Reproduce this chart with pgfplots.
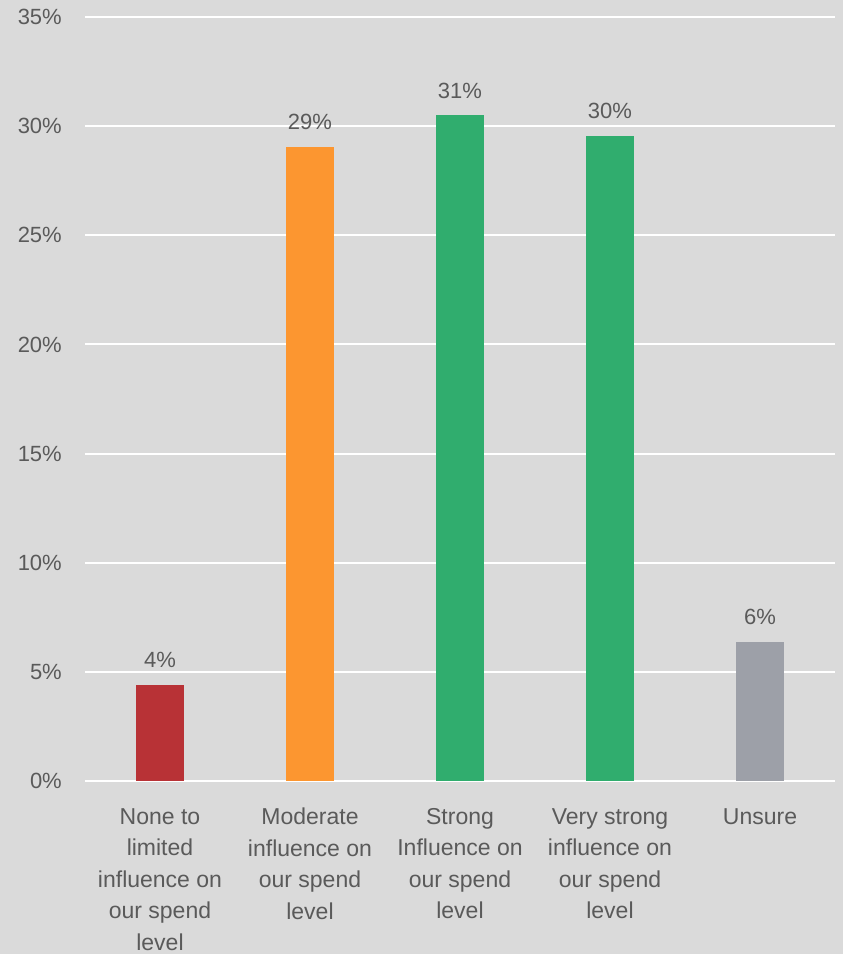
\documentclass[border=0pt]{standalone}
\usepackage{pgfplots}
\pgfplotsset{compat=1.18}
\usepackage{fontspec}
\setmainfont{Liberation Sans}
\definecolor{bg}{HTML}{DADADA}
\definecolor{txt}{HTML}{5A5A5A}
\definecolor{cred}{HTML}{B83236}
\definecolor{corange}{HTML}{FC9630}
\definecolor{cgreen}{HTML}{30AD6E}
\definecolor{cgray}{HTML}{9DA0A8}
\begin{document}
\begin{tikzpicture}
\fill[bg] (-85pt,-173pt) rectangle (758pt,781pt);
\begin{axis}[
  at={(0,0)}, anchor=south west,
  scale only axis, width=750pt, height=764pt,
  xmin=-0.5, xmax=4.5, ymin=0, ymax=35,
  axis line style={draw=none},
  ybar, bar width=48pt,
  ytick={0,5,10,15,20,25,30,35},
  yticklabels={0\%,5\%,10\%,15\%,20\%,25\%,30\%,35\%},
  xtick={0,1,2,3,4},
  xticklabels={{None to\\limited\\influence on\\our spend\\level},{Moderate\\influence on\\our spend\\level},{Strong\\Influence on\\our spend\\level},{Very strong\\influence on\\our spend\\level},{Unsure}},
  major tick length=0pt,
  tick style={draw=none},
  ymajorgrids, grid style={white, line width=2pt},
  tick label style={text=txt, font=\fontsize{22}{32}\selectfont},
  xticklabel style={align=center, anchor=north, inner sep=0pt, yshift=-27pt, font=\fontsize{23}{31.5}\selectfont},
  yticklabel style={anchor=east, inner sep=0pt, xshift=-23pt},
  nodes near coords,
  point meta=explicit symbolic,
  every node near coord/.style={text=txt, font=\fontsize{22}{32}\selectfont, anchor=base, inner sep=0pt, yshift=17pt},
  clip=false,
]
\addplot[fill=cred, draw=none, bar shift=0pt] coordinates {(0,4.4) [4\%]};
\addplot[fill=corange, draw=none, bar shift=0pt] coordinates {(1,29.05) [29\%]};
\addplot[fill=cgreen, draw=none, bar shift=0pt] coordinates {(2,30.5) [31\%]};
\addplot[fill=cgreen, draw=none, bar shift=0pt] coordinates {(3,29.55) [30\%]};
\addplot[fill=cgray, draw=none, bar shift=0pt] coordinates {(4,6.37) [6\%]};
\end{axis}
\end{tikzpicture}
\end{document}
